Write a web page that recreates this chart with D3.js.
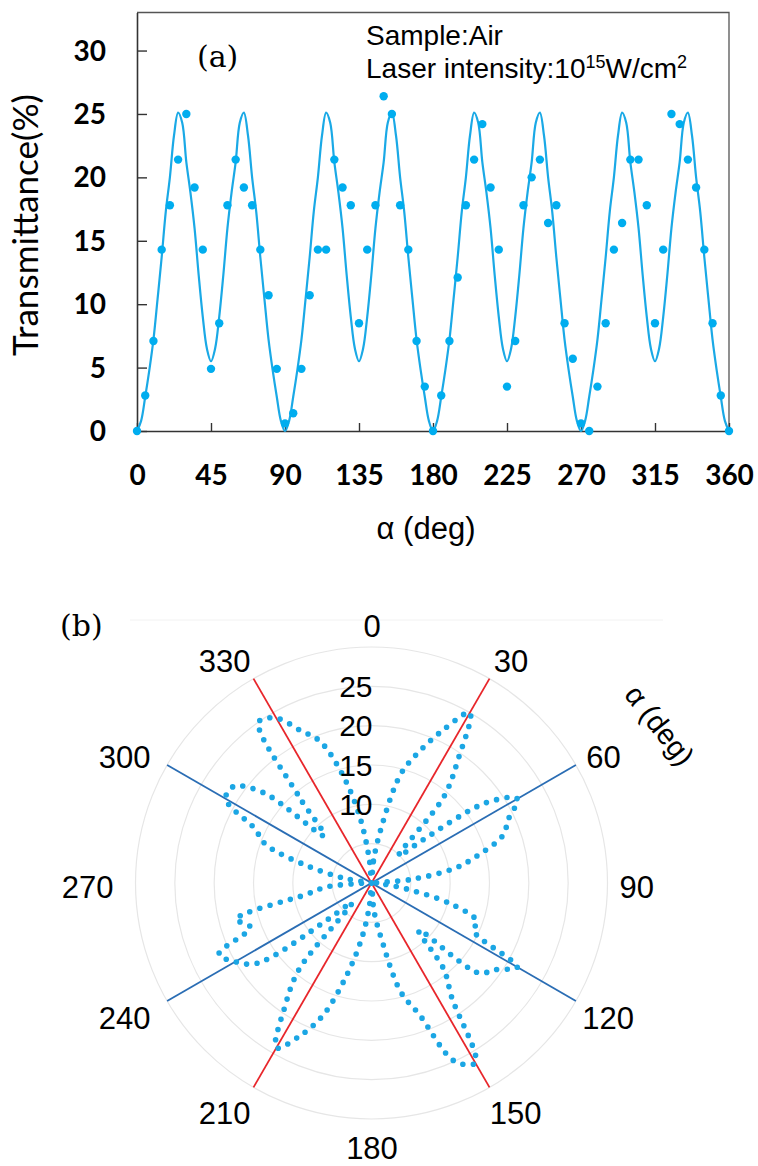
<!DOCTYPE html>
<html>
<head>
<meta charset="utf-8">
<script src="https://cdn.jsdelivr.net/npm/d3@7"></script>
<style>
  body { margin: 0; background: #fff; }
  svg { display: block; }
</style>
</head>
<body>
<svg id="chart" width="758" height="1166"></svg>
<script>
// measured angles (deg) and transmittance (%)
var angles = [0, 5, 10, 15, 20, 25, 30, 35, 40, 45, 50, 55, 60, 65, 70, 75, 80, 85, 90,
  95, 100, 105, 110, 115, 120, 125, 130, 135, 140, 145, 150, 155, 160, 165, 170, 175, 180,
  185, 190, 195, 200, 205, 210, 215, 220, 225, 230, 235, 240, 245, 250, 255, 260, 265, 270,
  275, 280, 285, 290, 295, 300, 305, 310, 315, 320, 325, 330, 335, 340, 345, 350, 355, 360];
var transmittance = [0, 2.8, 7.1, 14.3, 17.8, 21.4, 25.0, 19.2, 14.3, 4.9, 8.5, 17.8, 21.4, 19.2, 17.8, 14.3, 10.7, 4.9, 0.6,
  1.4, 4.9, 10.7, 14.3, 14.3, 21.4, 19.2, 17.8, 8.5, 14.3, 17.8, 26.4, 25.0, 17.8, 14.3, 7.1, 3.5, 0,
  2.8, 7.1, 12.1, 17.8, 21.4, 24.2, 19.2, 14.3, 3.5, 7.1, 17.8, 20.0, 21.4, 16.4, 17.8, 8.5, 5.7, 0.6,
  0, 3.5, 8.5, 14.3, 16.4, 21.4, 21.4, 17.8, 8.5, 14.3, 25.0, 24.2, 21.4, 19.2, 14.3, 8.5, 2.8, 0];

// fitted curve, every 2.5 deg
var fitAngles = [0, 2.5, 5, 7.5, 10, 12.5, 15, 17.5, 20, 22.5, 25, 27.5, 30, 32.5, 35, 37.5, 40, 42.5,
  45, 47.5, 50, 52.5, 55, 57.5, 60, 62.5, 65, 67.5, 70, 72.5, 75, 77.5, 80, 82.5, 85, 87.5,
  90, 92.5, 95, 97.5, 100, 102.5, 105, 107.5, 110, 112.5, 115, 117.5, 120, 122.5, 125, 127.5, 130, 132.5,
  135, 137.5, 140, 142.5, 145, 147.5, 150, 152.5, 155, 157.5, 160, 162.5, 165, 167.5, 170, 172.5, 175, 177.5,
  180, 182.5, 185, 187.5, 190, 192.5, 195, 197.5, 200, 202.5, 205, 207.5, 210, 212.5, 215, 217.5, 220, 222.5,
  225, 227.5, 230, 232.5, 235, 237.5, 240, 242.5, 245, 247.5, 250, 252.5, 255, 257.5, 260, 262.5, 265, 267.5,
  270, 272.5, 275, 277.5, 280, 282.5, 285, 287.5, 290, 292.5, 295, 297.5, 300, 302.5, 305, 307.5, 310, 312.5,
  315, 317.5, 320, 322.5, 325, 327.5, 330, 332.5, 335, 337.5, 340, 342.5, 345, 347.5, 350, 352.5, 355, 357.5, 360];
var fitValues = [0, 0.8, 2.7, 4.8, 7.2, 10.4, 13.7, 17.3, 20.0, 23.3, 25.1, 24.3, 21.2, 18.8, 16.0, 12.3, 9.0, 6.5,
  5.5, 6.5, 9.0, 12.3, 16.0, 18.8, 21.2, 24.3, 25.1, 23.3, 20.0, 17.3, 13.7, 10.4, 7.2, 4.8, 2.7, 0.8,
  0, 0.8, 2.7, 4.8, 7.2, 10.4, 13.7, 17.3, 20.0, 23.3, 25.1, 24.3, 21.2, 18.8, 16.0, 12.3, 9.0, 6.5,
  5.5, 6.5, 9.0, 12.3, 16.0, 18.8, 21.2, 24.3, 25.1, 23.3, 20.0, 17.3, 13.7, 10.4, 7.2, 4.8, 2.7, 0.8,
  0, 0.8, 2.7, 4.8, 7.2, 10.4, 13.7, 17.3, 20.0, 23.3, 25.1, 24.3, 21.2, 18.8, 16.0, 12.3, 9.0, 6.5,
  5.5, 6.5, 9.0, 12.3, 16.0, 18.8, 21.2, 24.3, 25.1, 23.3, 20.0, 17.3, 13.7, 10.4, 7.2, 4.8, 2.7, 0.8,
  0, 0.8, 2.7, 4.8, 7.2, 10.4, 13.7, 17.3, 20.0, 23.3, 25.1, 24.3, 21.2, 18.8, 16.0, 12.3, 9.0, 6.5,
  5.5, 6.5, 9.0, 12.3, 16.0, 18.8, 21.2, 24.3, 25.1, 23.3, 20.0, 17.3, 13.7, 10.4, 7.2, 4.8, 2.7, 0.8, 0];

var xTicks = [0, 45, 90, 135, 180, 225, 270, 315, 360];
var yTicks = [0, 5, 10, 15, 20, 25, 30];

var rings = [5, 10, 15, 20, 25, 30];
var ringLabels = [10, 15, 20, 25];
var angleTicks = [0, 30, 60, 90, 120, 150, 180, 210, 240, 270, 300, 330];
var redAxes = [30, 150];
var blueAxes = [60, 120];

var blue = '#00adef';
var sans = 'Liberation Sans, Arial, sans-serif';
var bold = 'Lato, Open Sans, sans-serif';

var svg = d3.select('#chart');

// ---------- (a) transmittance vs angle ----------
var x = d3.scaleLinear().domain([0, 360]).range([137, 729]);
var y = d3.scaleLinear().domain([0, 33]).range([431, 12.5]);

var panelA = svg.append('g');

panelA.append('path')
  .attr('d', 'M' + x(0) + ',' + y(33) + 'H' + x(360) + 'V' + y(0))
  .attr('fill', 'none')
  .attr('stroke', '#555')
  .attr('stroke-width', 1.3);

var xAxis = panelA.append('g')
  .attr('transform', 'translate(0,' + y(0) + ')')
  .call(d3.axisBottom(x).tickValues(xTicks).tickSize(-8).tickSizeOuter(0).tickPadding(34));
var yAxis = panelA.append('g')
  .attr('transform', 'translate(' + x(0) + ',0)')
  .call(d3.axisLeft(y).tickValues(yTicks).tickSize(-10).tickSizeOuter(0).tickPadding(31));

[xAxis, yAxis].forEach(function(g) {
  g.attr('font-family', null).attr('font-size', null);
  g.select('.domain').attr('stroke', '#333').attr('stroke-width', 1.6);
  g.selectAll('.tick line').attr('stroke', '#333').attr('stroke-width', 1.4);
  g.selectAll('.tick text')
    .attr('font-family', bold)
    .attr('font-weight', 'bold')
    .attr('font-size', 28)
    .attr('fill', '#000');
});
yAxis.selectAll('.tick text').attr('dy', '0.34em');

var fit = d3.line()
  .x(function(d, i) { return x(fitAngles[i]); })
  .y(function(d) { return y(d); })
  .curve(d3.curveCatmullRom);

panelA.append('path')
  .datum(fitValues)
  .attr('d', fit)
  .attr('fill', 'none')
  .attr('stroke', '#1aa9e6')
  .attr('stroke-width', 2.2);

panelA.selectAll('circle.pt')
  .data(transmittance)
  .enter().append('circle')
  .attr('class', 'pt')
  .attr('cx', function(d, i) { return x(angles[i]); })
  .attr('cy', function(d) { return y(d); })
  .attr('r', 4.2)
  .attr('fill', blue);

panelA.append('text')
  .attr('x', 197).attr('y', 67)
  .attr('font-family', 'DejaVu Serif, serif')
  .attr('font-size', 30)
  .text('(a)');

panelA.append('text')
  .attr('x', 366).attr('y', 45)
  .attr('font-family', sans)
  .attr('font-size', 28)
  .text('Sample:Air');

var laser = panelA.append('text')
  .attr('x', 366).attr('y', 78)
  .attr('font-family', sans)
  .attr('font-size', 28);
laser.append('tspan').text('Laser intensity:10');
laser.append('tspan').attr('font-size', 18).attr('dy', -10).text('15');
laser.append('tspan').attr('dy', 10).text('W/cm');
laser.append('tspan').attr('font-size', 18).attr('dy', -10).text('2');

panelA.append('text')
  .attr('x', 426).attr('y', 539)
  .attr('text-anchor', 'middle')
  .attr('font-family', sans)
  .attr('font-size', 31)
  .text('α (deg)');

var yLabel = panelA.append('text')
  .attr('transform', 'translate(38,225) rotate(-90)')
  .attr('text-anchor', 'middle')
  .attr('font-family', 'Lato, Open Sans, sans-serif')
  .attr('font-size', 30)
  .text('Transmittance(%)');
var len = yLabel.node().getComputedTextLength();
yLabel.attr('font-size', 30 * 262 / len);

// ---------- (b) polar plot ----------
var pcx = 371.5, pcy = 883;
var r = d3.scaleLinear().domain([0, 30]).range([0, 236]);
var rad = function(deg) { return deg * Math.PI / 180; };

svg.append('line')
  .attr('x1', 130).attr('x2', 663).attr('y1', 620).attr('y2', 620)
  .attr('stroke', '#f2f2f2').attr('stroke-width', 1);

var polar = svg.append('g').attr('transform', 'translate(' + pcx + ',' + pcy + ')');

polar.selectAll('circle.ring')
  .data(rings)
  .enter().append('circle')
  .attr('class', 'ring')
  .attr('r', function(d) { return r(d); })
  .attr('fill', 'none')
  .attr('stroke', '#e6e6e6')
  .attr('stroke-width', 1.2);

function diameters(list, colour) {
  polar.selectAll(null)
    .data(list)
    .enter().append('line')
    .attr('x1', function(d) { return d3.pointRadial(rad(d), r(30))[0]; })
    .attr('y1', function(d) { return d3.pointRadial(rad(d), r(30))[1]; })
    .attr('x2', function(d) { return d3.pointRadial(rad(d + 180), r(30))[0]; })
    .attr('y2', function(d) { return d3.pointRadial(rad(d + 180), r(30))[1]; })
    .attr('stroke', colour)
    .attr('stroke-width', 1.8);
}
diameters(blueAxes, '#2a6db4');
diameters(redAxes, '#e8262b');

var radial = d3.lineRadial()
  .angle(function(d, i) { return rad(angles[i]); })
  .radius(function(d) { return r(d); })
  .curve(d3.curveCatmullRomClosed);

polar.append('path')
  .datum(transmittance.slice(0, transmittance.length - 1))
  .attr('d', radial)
  .attr('fill', 'none')
  .attr('stroke', '#1ba6e4')
  .attr('stroke-width', 5.6)
  .attr('stroke-linecap', 'round')
  .attr('stroke-dasharray', '0 10.5');

polar.selectAll('text.rl')
  .data(ringLabels)
  .enter().append('text')
  .attr('class', 'rl')
  .attr('x', 1)
  .attr('y', function(d) { return -r(d); })
  .attr('dy', '0.36em')
  .attr('text-anchor', 'end')
  .attr('font-family', sans)
  .attr('font-size', 30)
  .text(function(d) { return d; });

// angle labels: pushed out sideways by part of their own width
svg.selectAll('text.al')
  .data(angleTicks)
  .enter().append('text')
  .attr('class', 'al')
  .attr('dy', '0.36em')
  .attr('text-anchor', 'middle')
  .attr('font-family', sans)
  .attr('font-size', 31)
  .text(function(d) { return d; })
  .each(function(d) {
    var w = this.getComputedTextLength();
    var s = Math.sin(rad(d)), c = Math.cos(rad(d));
    var side = Math.abs(s) < 1e-6 ? 0 : Math.sign(s);
    d3.select(this)
      .attr('x', 364.5 + 7.5 * c * c + 263 * s + side * 0.27 * w)
      .attr('y', 887 - 261 * c);
  });

svg.append('text')
  .attr('transform', 'translate(660,725) rotate(52)')
  .attr('dy', '0.36em')
  .attr('text-anchor', 'middle')
  .attr('font-family', sans)
  .attr('font-size', 29)
  .text('α (deg)');

svg.append('text')
  .attr('x', 60).attr('y', 636)
  .attr('font-family', 'DejaVu Serif, serif')
  .attr('font-size', 30)
  .text('(b)');
</script>
</body>
</html>
